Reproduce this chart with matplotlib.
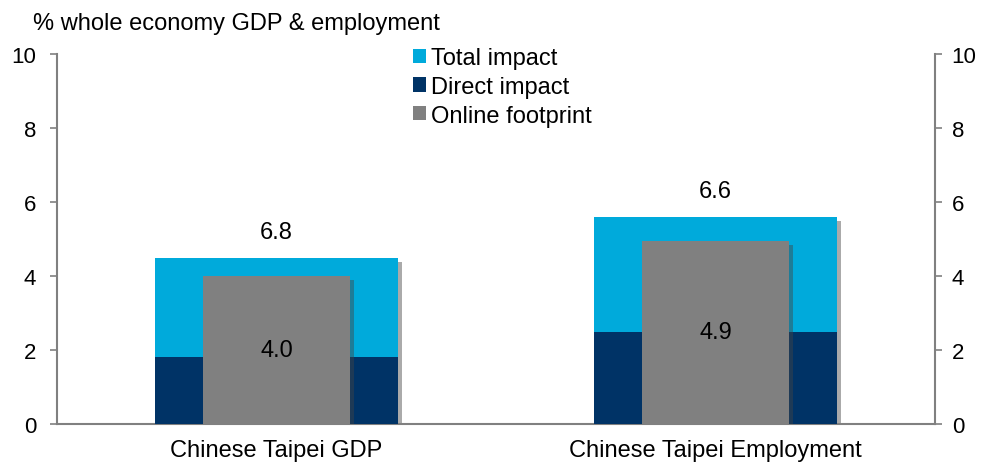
import matplotlib.pyplot as plt
import matplotlib.patheffects as pe
import numpy as np

plt.rcParams['font.family'] = ['Liberation Sans', 'DejaVu Sans']

categories = ['Chinese Taipei GDP', 'Chinese Taipei Employment']
total_impact = [4.5, 5.6]
direct_impact = [1.8, 2.5]
online_footprint = [4.0, 4.95]
total_labels = ['6.8', '6.6']
online_labels = ['4.0', '4.9']

c_total = '#00AADB'
c_direct = '#003366'
c_online = '#808080'
c_axis = '#808080'

W, H = 984, 464
fig = plt.figure(figsize=(W / 100, H / 100), dpi=100)
# axes box in pixels: x 57..935, y 55..425 (from top)
ax = fig.add_axes([57 / W, 1 - 425 / H, 878 / W, 370 / H])

x = np.arange(len(categories))

b1 = ax.bar(x, total_impact, width=0.553, color=c_total, label='Total impact', zorder=2)
b2 = ax.bar(x, direct_impact, width=0.553, color=c_direct, label='Direct impact', zorder=3)
b3 = ax.bar(x, online_footprint, width=0.335, color=c_online, label='Online footprint', zorder=4)

leg = ax.legend(loc='upper left', bbox_to_anchor=(413 / W, 1 - 48 / H), bbox_transform=fig.transFigure,
                frameon=False, fontsize=17, handlelength=0.55, handleheight=0.55,
                handletextpad=0.2, labelspacing=0.29, borderpad=0, borderaxespad=0)

# soft drop shadow on the bars (after legend so handles stay flat)
shadow = [pe.SimplePatchShadow(offset=(3, -3), shadow_rgbFace='#444444', alpha=0.45), pe.Normal()]
for bars in (b1, b3):
    for p in bars:
        p.set_path_effects(shadow)

for i in range(len(categories)):
    ax.text(x[i], total_impact[i] + 0.7, total_labels[i], ha='center', va='center', fontsize=17)
    ax.text(x[i], online_footprint[i] / 2, online_labels[i], ha='center', va='center', fontsize=17, zorder=5)

ax.set_xlim(-0.5, 1.5)
ax.set_ylim(0, 10)
ax.set_yticks([0, 2, 4, 6, 8, 10])
ax.set_xticks(x)
ax.set_xticklabels(categories)
ax.tick_params(axis='x', length=0, labelsize=17, pad=11)
ax.tick_params(axis='y', labelsize=16, color=c_axis, length=5, width=1.2, pad=10)
ax.spines['top'].set_visible(False)
ax.spines['right'].set_visible(False)
for s in ('left', 'bottom'):
    ax.spines[s].set_color(c_axis)
    ax.spines[s].set_linewidth(1.5)

sec = ax.secondary_yaxis('right')
sec.set_yticks([0, 2, 4, 6, 8, 10])
sec.tick_params(labelsize=16, color=c_axis, length=5, width=1.2, pad=7)
sec.spines['right'].set_color(c_axis)
sec.spines['right'].set_linewidth(1.5)

fig.text(33 / W, 1 - 24 / H, '% whole economy GDP & employment', fontsize=17, va='center')

fig.savefig('out.png', dpi=100)
